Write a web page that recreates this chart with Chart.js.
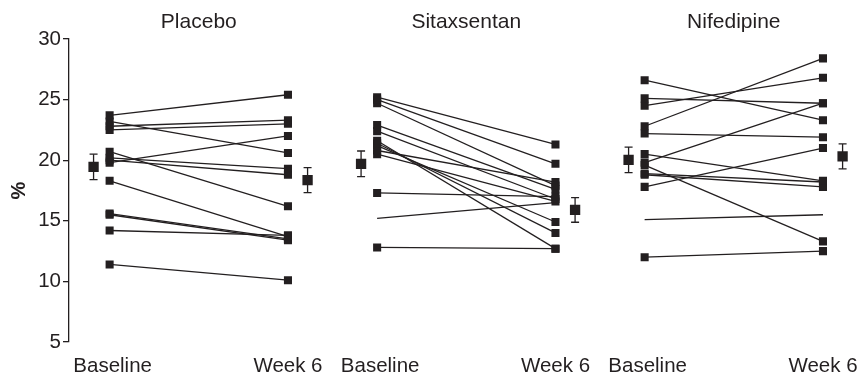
<!DOCTYPE html>
<html>
<head>
<meta charset="utf-8">
<script src="https://cdn.jsdelivr.net/npm/chart.js@4/dist/chart.umd.min.js"></script>
<style>
  html, body { margin: 0; padding: 0; background: #ffffff; }
  #wrap { width: 860px; height: 375px; }
</style>
</head>
<body>
<div id="wrap"><canvas id="c" width="860" height="375"></canvas></div>
<script>
// Treatment groups and time points
const groups = ['Placebo', 'Sitaxsentan', 'Nifedipine'];
const timepoints = ['Baseline', 'Week 6'];
const yTicks = [5, 10, 15, 20, 25, 30];

// Individual subjects, baseline and week 6 (%)
const placeboBaseline = [23.7, 23.2, 22.8, 22.5, 19.8, 20.7, 20.2, 20.0, 18.3, 15.6, 15.5, 14.2, 11.4];
const placeboWeek6    = [25.4, 20.6, 23.3, 23.0, 22.0, 16.2, 19.3, 18.8, 13.7, 13.5, 13.4, 13.8, 10.1];
const placeboNoMarker = [];

const sitaxBaseline = [25.2, 25.0, 24.7, 22.9, 22.4, 21.6, 21.4, 21.2, 20.8, 20.5, 17.3, 15.2, 12.8];
const sitaxWeek6    = [21.3, 19.7, 17.9, 17.6, 16.8, 12.7, 14.0, 14.9, 18.2, 16.6, 17.0, 16.5, 12.7];
const sitaxNoMarker = [11];

const nifBaseline = [26.6, 25.1, 24.5, 22.8, 22.2, 20.5, 19.8, 19.6, 18.9, 18.8, 17.8, 15.1, 12.0];
const nifWeek6    = [23.3, 24.7, 26.8, 28.4, 21.9, 18.3, 24.7, 13.3, 18.2, 17.8, 21.0, 15.5, 12.5];
const nifNoMarker = [11];

// Group mean and SEM at baseline / week 6
const placeboMean = [19.45, 18.35];
const placeboSem  = [1.05, 1.03];
const sitaxMean   = [19.7, 15.9];
const sitaxSem    = [1.06, 1.02];
const nifMean     = [20.03, 20.31];
const nifSem      = [1.05, 1.03];

const ink = '#231f20';
const FONT = '"Liberation Sans", Arial, Helvetica, sans-serif';

// x layout: each panel spans one unit from Baseline to Week 6
const PANEL_STEP = 1.5;
const MEAN_LEFT = -0.09;
const MEAN_RIGHT = 1.11;

const panels = [
  { base: placeboBaseline, wk: placeboWeek6, mean: placeboMean, sem: placeboSem, noMarker: placeboNoMarker },
  { base: sitaxBaseline,   wk: sitaxWeek6,   mean: sitaxMean,   sem: sitaxSem,   noMarker: sitaxNoMarker },
  { base: nifBaseline,     wk: nifWeek6,     mean: nifMean,     sem: nifSem,     noMarker: nifNoMarker }
];

const datasets = [];
const meanPoints = [];

panels.forEach((p, gi) => {
  const x0 = gi * PANEL_STEP;
  const meanX = [x0 + MEAN_LEFT, x0 + MEAN_RIGHT];
  // mean markers and SEM bars
  p.mean.forEach((m, ti) => {
    meanPoints.push({ x: meanX[ti], y: m });
  });
  p.mean.forEach((m, ti) => {
    datasets.push({
      data: [{ x: meanX[ti], y: m - p.sem[ti] }, { x: meanX[ti], y: m + p.sem[ti] }],
      borderColor: ink,
      borderWidth: 1.3,
      pointStyle: 'line',
      pointRadius: 4,
      pointBorderColor: ink,
      pointBorderWidth: 1.3,
      pointBackgroundColor: ink
    });
  });
  // one line per subject
  p.base.forEach((b, i) => {
    const bare = p.noMarker.includes(i);
    datasets.push({
      data: [{ x: x0, y: b }, { x: x0 + 1, y: p.wk[i] }],
      borderColor: ink,
      borderWidth: 1.3,
      pointStyle: 'rect',
      pointRadius: bare ? 0 : 5.7,
      pointBorderWidth: 0,
      pointBackgroundColor: ink
    });
  });
});

datasets.unshift({
  data: meanPoints,
  showLine: false,
  pointStyle: 'rect',
  pointRadius: 7.3,
  pointBorderWidth: 0,
  pointBackgroundColor: ink
});

// panel titles and time-point labels
const panelText = {
  id: 'panelText',
  afterDraw(chart) {
    const ctx = chart.ctx;
    const xs = chart.scales.x;
    ctx.save();
    ctx.fillStyle = ink;
    ctx.textAlign = 'center';
    ctx.textBaseline = 'alphabetic';
    ctx.font = '21px ' + FONT;
    groups.forEach((g, gi) => {
      const cx = xs.getPixelForValue(gi * PANEL_STEP + 0.5);
      ctx.fillText(g, cx, 28);
    });
    ctx.font = '20.5px ' + FONT;
    groups.forEach((g, gi) => {
      timepoints.forEach((t, ti) => {
        const w = ctx.measureText(t).width;
        let cx = xs.getPixelForValue(gi * PANEL_STEP + ti) + (ti === 0 ? 3 : 0);
        cx = Math.min(cx, chart.width - 2 - w / 2);
        ctx.fillText(t, cx, 372);
      });
    });
    ctx.restore();
  }
};

new Chart(document.getElementById('c'), {
  type: 'line',
  data: { datasets },
  options: {
    responsive: false,
    animation: false,
    layout: { padding: { top: 39, bottom: 33, left: 0, right: 0 } },
    plugins: { legend: { display: false }, tooltip: { enabled: false } },
    elements: { line: { tension: 0 } },
    scales: {
      x: {
        type: 'linear',
        display: false,
        min: -41 / 180,
        max: 750 / 180
      },
      y: {
        type: 'linear',
        min: 5,
        max: 30,
        afterFit(scale) { scale.width = 69; },
        afterBuildTicks(scale) { scale.ticks = yTicks.map(v => ({ value: v })); },
        border: { display: true, color: ink, width: 1.3 },
        grid: { drawOnChartArea: false, drawTicks: true, tickLength: 6, color: ink, lineWidth: 1.3 },
        ticks: { color: ink, padding: 2, font: { family: FONT, size: 20.5 } },
        title: {
          display: true,
          text: '%',
          color: ink,
          font: { family: FONT, size: 20, weight: 'bold' },
          padding: { top: 7, bottom: 0 }
        }
      }
    }
  },
  plugins: [panelText]
});
</script>
</body>
</html>
